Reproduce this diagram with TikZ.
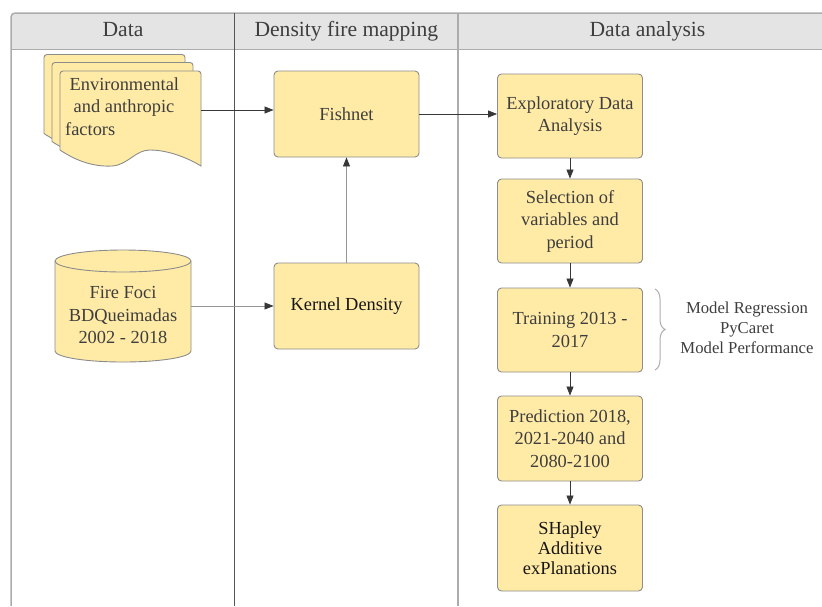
\documentclass[tikz,border=0pt]{standalone}
\usepackage{fontspec}
\setmainfont{Liberation Serif}
\usetikzlibrary{arrows.meta,decorations.pathreplacing}

\definecolor{headfill}{RGB}{228,228,228}
\definecolor{boxfill}{RGB}{255,235,166}
\definecolor{boxline}{RGB}{140,140,140}
\definecolor{laneline}{RGB}{172,172,172}
\definecolor{softline}{RGB}{150,150,150}
\definecolor{darkline}{RGB}{85,85,85}
\definecolor{txt}{RGB}{62,62,62}
\definecolor{txtdark}{RGB}{22,22,22}
\definecolor{arrowc}{RGB}{55,55,55}

\newcommand\bxfont{\fontsize{18.4}{22.5}\selectfont}

% outline of one sheet of the document stack (top-left corner at (60,71))
\newcommand\sheetpath{(60,150) -- (60,74) arc[start angle=180,end angle=270,radius=3]
  -- (198,71) arc[start angle=270,end angle=360,radius=3] -- (201,166)
  .. controls (188,158) and (168,150) .. (150,150)
  .. controls (135,150) and (128,165) .. (112,166)
  .. controls (92,167) and (75,160) .. (60,150) -- cycle}

\begin{document}
\begin{tikzpicture}[x=1pt,y=-1pt,
  stepbox/.style={draw=boxline, fill=boxfill, line width=0.9pt, rounded corners=4pt,
    minimum width=145pt, minimum height=85pt, inner sep=2pt, align=center,
    text=txt, font=\bxfont},
  shapestyle/.style={draw=boxline, fill=boxfill, line width=0.9pt},
  anchorbox/.style={inner sep=0pt, draw=none},
  lanehead/.style={anchor=base, text=txt, font=\fontsize{21.6}{26}\selectfont},
  flow/.style={draw=arrowc, line width=0.8pt, -{Triangle[length=9pt,width=7pt,color=arrowc]}},
  softflow/.style={flow, draw=softline},
]
\useasboundingbox (0,0) rectangle (822,606);

% swimlane header band and lane borders
\fill[headfill] (11,49) -- (11,17) arc[start angle=180,end angle=270,radius=4] -- (822,13) -- (822,49) -- cycle;
\draw[laneline, line width=1.5pt] (11,606) -- (11,17) arc[start angle=180,end angle=270,radius=4] -- (822,13);
\draw[laneline, line width=1pt] (11,49) -- (822,49);
\draw[darkline, line width=0.9pt] (234.5,13) -- (234.5,606);
\draw[laneline, line width=1.3pt] (458,13) -- (458,606);

\node[lanehead] (hdata) at (123,36) {Data};
\node[lanehead] (hdens) at (346.3,36) {Density fire mapping};
\node[lanehead] (hanal) at (647.5,36) {Data analysis};

% multi-document stack
\begin{scope}[shift={(-16,-16.5)}]
  \path[shapestyle] \sheetpath;
\end{scope}
\begin{scope}[shift={(-8,-8.5)}]
  \path[shapestyle] \sheetpath;
\end{scope}
\path[shapestyle] \sheetpath;
\node[anchorbox, minimum width=141pt, minimum height=78pt] (envdoc) at (130.5,110) {};
\node[anchor=north west, align=left, text=txt, font=\bxfont, inner sep=0pt] (envtxt) at (65,77.5)
  {\hspace*{4.5pt}Environmental\\\hspace*{8.5pt}and anthropic\\factors};

% database cylinder
\path[shapestyle] (55,261) -- (55,351) arc[start angle=180,end angle=0,x radius=68,y radius=11]
  -- (191,261) arc[start angle=0,end angle=-180,x radius=68,y radius=11] -- cycle;
\draw[boxline, line width=0.9pt] (55,261) arc[start angle=180,end angle=0,x radius=68,y radius=11];
\node[anchorbox, minimum width=136pt, minimum height=112pt] (fire) at (123,306) {};
\node[align=center, text=txt, font=\bxfont, inner sep=0pt] (firetxt) at (123,315)
  {Fire Foci\\BDQueimadas\\2002 - 2018};

% process boxes
\node[stepbox, minimum height=86pt] (fishnet) at (346.5,114) {Fishnet};
\node[stepbox, minimum height=86pt, text=txtdark] (kernel) at (346.5,306) {Kernel Density};

\node[stepbox, minimum height=84pt] (eda) at (570,116) {Exploratory Data\\Analysis};
\node[stepbox, minimum height=84pt] (sel) at (570,221) {Selection of\\variables and\\period};
\node[stepbox, minimum height=84pt] (train) at (570,330) {Training 2013 -\\2017};
\node[stepbox, minimum height=85pt] (pred) at (570,438.5) {Prediction 2018,\\2021-2040 and\\2080-2100};
\node[stepbox, minimum height=86pt, text=txtdark, font=\fontsize{18.4}{20}\selectfont] (shap) at (570,548)
  {SHapley\\Additive\\exPlanations};

% connectors
\draw[flow] (envdoc.east) -- (envdoc.east -| fishnet.west);
\draw[softflow] (fire.east) -- (kernel.west);
\draw[softflow] (kernel) -- (fishnet);
\draw[flow] (fishnet.east) -- (fishnet.east -| eda.west);
\draw[flow] (eda) -- (sel);
\draw[flow] (sel) -- (train);
\draw[flow] (train) -- (pred);
\draw[flow] (pred) -- (shap);

% brace with the modelling notes
\draw[laneline, line width=1pt, decorate, decoration={brace, amplitude=10pt}] (655,289) -- (655,370);
\node[align=center, text=txt, font=\fontsize{16.7}{20}\selectfont, inner sep=0pt] (notes) at (747,328)
  {Model Regression\\PyCaret\\Model Performance};
\end{tikzpicture}
\end{document}
